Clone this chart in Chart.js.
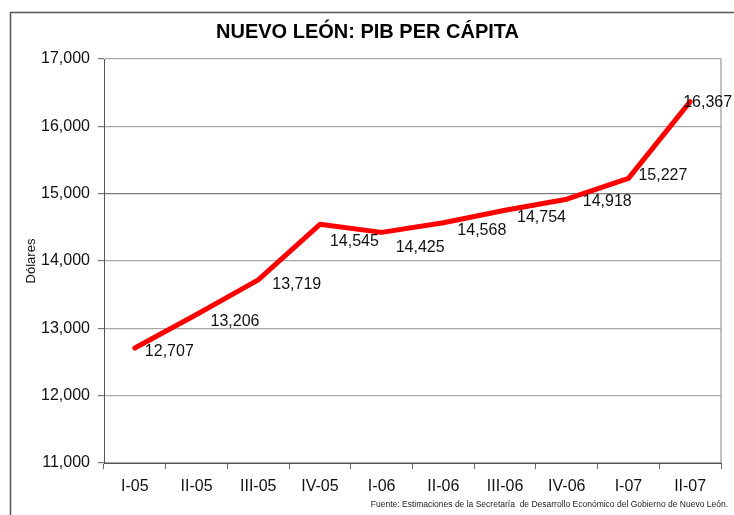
<!DOCTYPE html>
<html>
<head>
<meta charset="utf-8">
<script src="https://cdn.jsdelivr.net/npm/chart.js@4.4.1/dist/chart.umd.min.js"></script>
<style>
  html, body { margin: 0; padding: 0; background: #fff; }
  #wrap { width: 734px; height: 515px; position: relative; }
</style>
</head>
<body>
<div id="wrap"><canvas id="chart_pibPerCapita"></canvas></div>
<script>
// data
var quarters = ['I-05', 'II-05', 'III-05', 'IV-05', 'I-06', 'II-06', 'III-06', 'IV-06', 'I-07', 'II-07'];
var pibPerCapita = [12707, 13206, 13719, 14545, 14425, 14568, 14754, 14918, 15227, 16367];
var yTicks = [11000, 12000, 13000, 14000, 15000, 16000, 17000];

// where each value label sits relative to its point (px)
var labelNudge = [[10, 4], [14, 7], [14, 5], [10, 17], [14, 15], [14, 8], [12, 7], [16, 2], [10, -3], [-7, 1]];

var fmt = function (v) { return v.toLocaleString('en-US'); };

var chart_pibPerCapita = new Chart(document.getElementById('chart_pibPerCapita'), {
    type: 'line',
    data: {
        labels: quarters,
        datasets: [
            {
                label: 'PIB per cápita',
                data: pibPerCapita,
                borderColor: '#ff0000',
                borderWidth: 5,
                borderJoinStyle: 'round',
                borderCapStyle: 'round',
                pointRadius: 0,
                tension: 0,
                fill: false
            }
        ]
    },
    options: {
        animation: false,
        responsive: true,
        maintainAspectRatio: false,
        layout: {
            padding: { left: 14, right: 13, top: 10, bottom: 0 }
        },
        plugins: {
            legend: { display: false },
            tooltip: { enabled: false },
            title: {
                display: true,
                text: 'NUEVO LEÓN: PIB PER CÁPITA',
                color: '#000',
                font: { family: 'Liberation Sans', size: 20, weight: 'bold' },
                padding: { top: 10.5, bottom: 14.5 }
            }
        },
        scales: {
            x: {
                offset: true,
                grid: {
                    offset: true,
                    drawOnChartArea: false,
                    drawTicks: true,
                    tickLength: 6,
                    color: '#666'
                },
                border: { color: '#555', width: 1 },
                ticks: {
                    color: '#111',
                    padding: 8,
                    maxRotation: 0,
                    autoSkip: false,
                    font: { family: 'Liberation Sans', size: 16 }
                },
                afterFit: function (scale) { scale.height = 52; }
            },
            y: {
                min: 11000,
                max: 17000,
                afterBuildTicks: function (scale) {
                    scale.ticks = yTicks.map(function (v) { return { value: v }; });
                },
                grid: {
                    color: function (ctx) {
                        return ctx.tick && ctx.tick.value === 15000 ? '#7a7a7a' : '#a8a8a8';
                    },
                    tickColor: '#777',
                    tickLength: 6,
                    lineWidth: 1.2
                },
                border: { color: '#555', width: 1 },
                ticks: {
                    color: '#111',
                    padding: 8,
                    font: { family: 'Liberation Sans', size: 16 },
                    callback: function (v) { return fmt(v); }
                },
                title: {
                    display: true,
                    text: 'Dólares',
                    color: '#111',
                    font: { family: 'Liberation Sans', size: 13 },
                    padding: { top: 10, bottom: 0 }
                },
                afterFit: function (scale) { scale.width = 90; }
            }
        }
    },
    plugins: [{
        id: 'customPlugin',
        beforeDraw: function (chart) {
            var ctx = chart.ctx;
            ctx.save();
            ctx.fillStyle = 'white';
            ctx.fillRect(0, 0, chart.width, chart.height);
            ctx.strokeStyle = '#555';
            ctx.lineWidth = 1.5;
            ctx.strokeRect(10.5, 12.5, chart.width + 40, chart.height + 40);
            ctx.restore();
        },
        afterDatasetsDraw: function (chart) {
            var ctx = chart.ctx;
            var area = chart.chartArea;
            var meta = chart.getDatasetMeta(0);
            ctx.save();
            // right edge of the plot box
            ctx.strokeStyle = '#999';
            ctx.lineWidth = 1.2;
            ctx.beginPath();
            ctx.moveTo(area.right, area.top);
            ctx.lineTo(area.right, area.bottom);
            ctx.stroke();
            // value labels
            ctx.fillStyle = '#111';
            ctx.font = '16px "Liberation Sans"';
            ctx.textAlign = 'left';
            ctx.textBaseline = 'middle';
            meta.data.forEach(function (pt, i) {
                var n = labelNudge[i] || [10, 4];
                ctx.fillText(fmt(pibPerCapita[i]), pt.x + n[0], pt.y + n[1]);
            });
            // source note
            ctx.font = '8.5px "Liberation Sans"';
            ctx.textAlign = 'right';
            ctx.fillStyle = '#222';
            ctx.fillText('Fuente: Estimaciones de la Secretaría  de Desarrollo Económico del Gobierno de Nuevo León.', 728, 505);
            ctx.restore();
        }
    }]
});
</script>
</body>
</html>
